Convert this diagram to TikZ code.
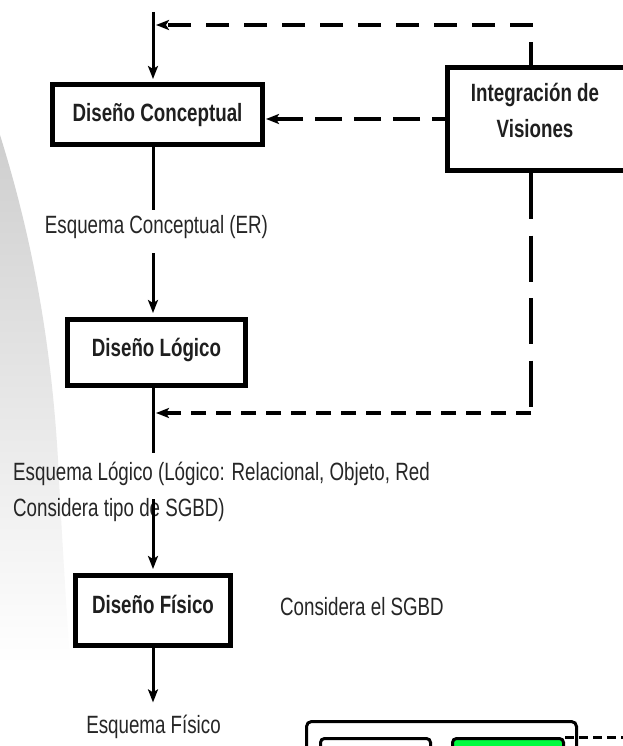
\documentclass[tikz,border=0pt]{standalone}
\usepackage{fontspec}
\newfontfamily\lsans[FakeStretch=0.75]{Liberation Sans}
\usetikzlibrary{arrows.meta}
\newcommand\vstrt[2]{\rule[-#2pt]{0pt}{\dimexpr#1pt+#2pt\relax}}
\definecolor{boxgreen}{RGB}{0,250,64}
\begin{document}
\begin{tikzpicture}[x=1pt,y=-1pt,
  txt/.style={font=\lsans\fontsize{25}{36}\selectfont, text=black!85, inner sep=0pt},
  boxlbl/.style={font=\lsans\bfseries\fontsize{25}{36}\selectfont, text=black!88},
  box/.style={draw=black, line width=5pt, inner sep=0pt, fill=white},
  solidln/.style={line width=3pt, draw=black},
  tip/.style={-{Stealth[length=13pt,width=10pt,inset=3pt]}},
  dashln/.style={line width=4pt, draw=black},
  panelbox/.style={draw=black, line width=3pt, inner sep=0pt}
]
\useasboundingbox (0,0) rectangle (623,746);
\clip (0,0) rectangle (623,746);
\fill[white] (0,0) rectangle (623,746);

% grey swoosh on the left
\shade[top color=gray!38, middle color=gray!48, bottom color=white]
  (0,135) .. controls (25,215) and (50,320) .. (58,460)
  .. controls (62,540) and (66,600) .. (70,665) -- (0,665) -- cycle;

% boxes
\node[box, boxlbl, minimum width=210pt, minimum height=60pt] (DC) at (157.5,114.5) {\vstrt{20}{5.3}Diseño Conceptual};
\node[box, boxlbl, minimum width=178pt, minimum height=66pt] (DL) at (156.5,352.5) {\vstrt{20}{13}Diseño Lógico};
\node[box, boxlbl, minimum width=155pt, minimum height=70pt] (DF) at (153,610.5) {\vstrt{20}{15}Diseño Físico};
\node[box, boxlbl, align=center, minimum width=205pt, minimum height=103pt] (Int) at (550,119) {\vstrt{20}{0}Integración de\hspace*{30pt}\\Visiones\hspace*{30pt}\vstrt{0}{18}};

% free texts
\node[txt, anchor=base] (EC) at (156.5,233) {Esquema Conceptual (ER)};
\node[txt, anchor=north west, align=left] (EL) at (13,460) {\vstrt{20}{0}Esquema Lógico (Lógico: Relacional, Objeto, Red\\Considera tipo de SGBD)};
\node[txt, anchor=base west] (CS) at (280,615) {Considera el SGBD};
\node[txt, anchor=base] (EF) at (153.5,733) {Esquema Físico};

% coordinates
\coordinate (top) at (153,12);
\coordinate (c1) at (531,25);
\coordinate (c2) at (531,413);
\coordinate (elmid) at (153,499);
\coordinate (gend) at (640,737);

% solid flow
\draw[solidln, tip, shorten >=3pt] (top) -- (top |- DC.north);
\draw[solidln, shorten >=5pt] (top |- DC.south) -- (top |- EC.north);
\draw[solidln, tip, shorten <=15pt, shorten >=4pt] (top |- EC.south) -- (top |- DL.north);
\draw[solidln, shorten >=7pt] (top |- DL.south) -- (top |- EL.north);
\draw[solidln, tip, shorten >=4pt] (elmid) -- (elmid |- DF.north);
\draw[solidln, tip, shorten >=12pt] (top |- DF.south) -- (top |- EF.north);

% dashed feedback
\draw[dashln, dash pattern=on 23pt off 15pt, tip, shorten >=3pt] (c1 |- Int.north) -- (c1) -- (top |- c1);
\draw[dashln, dash pattern=on 27pt off 12pt, dash phase=14pt, tip, shorten >=1pt] (Int.west) -- (Int.west -| DC.east);
\draw[dashln, dash pattern=on 46pt off 16.5pt] (c2 |- Int.south) -- (c2);
\draw[dashln, dash pattern=on 15pt off 10pt, tip, shorten >=3pt] (c2) -- (top |- c2);

% bottom right panel
\node[panelbox, rounded corners=5pt, minimum width=270pt, minimum height=70pt] (panel) at (441.5,756.5) {};
\node[panelbox, rounded corners=4pt, fill=white, minimum width=110pt, minimum height=60pt] (wbox) at (375.5,768.5) {};
\node[panelbox, rounded corners=4pt, fill=boxgreen, minimum width=111pt, minimum height=60pt] (gbox) at (508,768.5) {};
\draw[line width=3pt, dash pattern=on 9pt off 5pt] (gbox.north east) -- (gend);
\end{tikzpicture}
\end{document}
